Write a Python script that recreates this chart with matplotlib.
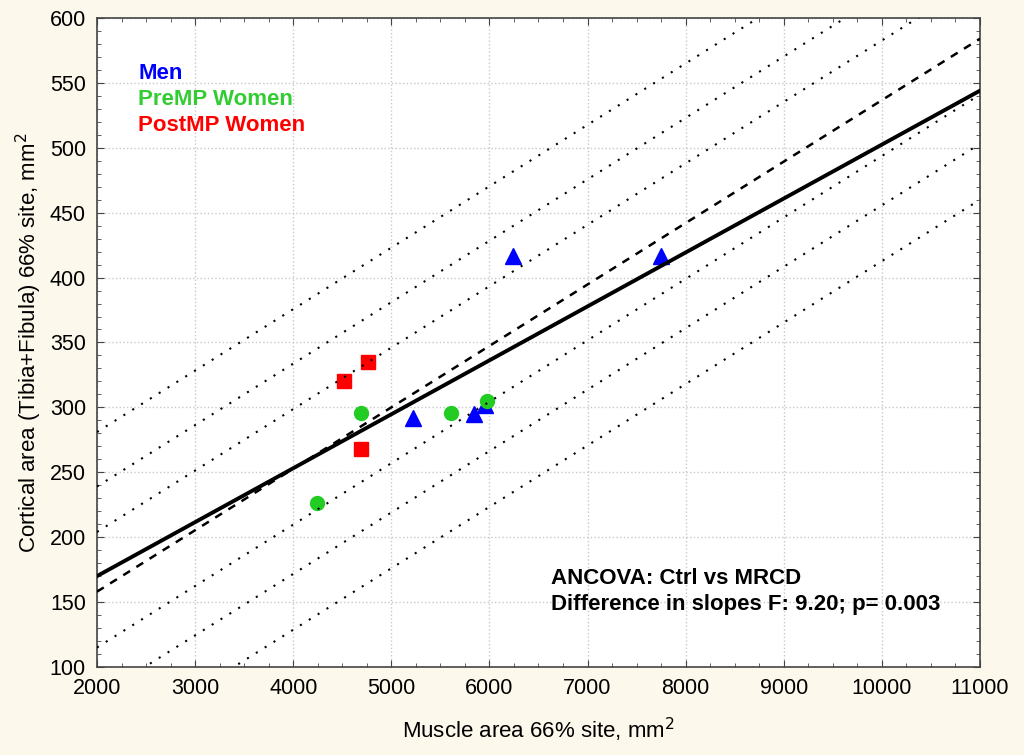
import numpy as np
import matplotlib.pyplot as plt
from matplotlib.ticker import MultipleLocator

plt.rcParams['font.family'] = ['Liberation Sans', 'DejaVu Sans']

# data
men_x = [6240, 7750, 5220, 5840, 5955]
men_y = [417, 417, 292, 295, 302]
pre_x = [4240, 4690, 5610, 5975]
pre_y = [226, 296, 296, 305]
post_x = [4515, 4760, 4690]
post_y = [320, 335, 268]

# regression lines, values at x = 2000 and 11000
fit_x = [2000, 11000]
solid_fit = [170, 544]
dashed_fit = [158, 584]
# dotted bands, offsets from the dashed line
band_offsets = [123, 81, 46, -43, -81, -124]

bg = '#fdf8ec'
fig = plt.figure(figsize=(10.24, 7.55), dpi=100)
fig.set_facecolor(bg)
ax = fig.add_axes([0.0947, 0.1166, 0.8623, 0.8596])
ax.set_facecolor('white')

ax.plot(men_x, men_y, '^', color='#0000ff', markersize=11, zorder=3)
ax.plot(pre_x, pre_y, 'o', color='#22cc22', markersize=10, zorder=3)
ax.plot(post_x, post_y, 's', color='#ff0000', markersize=9.5, zorder=3)

ax.plot(fit_x, solid_fit, color='black', lw=2.8, zorder=4)
ax.plot(fit_x, dashed_fit, color='black', lw=1.8, linestyle=(0, (3.2, 3)), zorder=4)
for off in band_offsets:
    ax.plot(fit_x, [v + off for v in dashed_fit], color='black', lw=1.5,
            linestyle=(0, (1, 4)), zorder=4)

ax.set_xlim(2000, 11000)
ax.set_ylim(100, 600)
ax.xaxis.set_major_locator(MultipleLocator(1000))
ax.xaxis.set_minor_locator(MultipleLocator(250))
ax.yaxis.set_major_locator(MultipleLocator(50))
ax.yaxis.set_minor_locator(MultipleLocator(10))
ax.tick_params(which='both', direction='in', top=True, right=True, color='#444444')
ax.tick_params(which='major', length=5, labelsize=15.5, pad=8)
ax.tick_params(which='minor', length=3)
ax.grid(True, which='major', color='#c8c8c8', linestyle=':', lw=1)
for s in ax.spines.values():
    s.set_color('#444444')
    s.set_linewidth(1.2)

ax.set_xlabel('Muscle area 66% site, mm$^2$', fontsize=16, labelpad=12)
ax.set_ylabel('Cortical area (Tibia+Fibula) 66% site, mm$^2$', fontsize=16, labelpad=4)

ax.text(2420, 557.5, 'Men', color='#0000ff', fontsize=16, fontweight='bold', va='center')
ax.text(2420, 537.5, 'PreMP Women', color='#33cc33', fontsize=16, fontweight='bold', va='center')
ax.text(2420, 517, 'PostMP Women', color='#ff0000', fontsize=16, fontweight='bold', va='center')

ax.text(6630, 168.5, 'ANCOVA: Ctrl vs MRCD', fontsize=16, fontweight='bold', va='center')
ax.text(6630, 148, 'Difference in slopes F: 9.20; p= 0.003', fontsize=16, fontweight='bold', va='center')

fig.savefig('out.png', dpi=100, facecolor=bg)
